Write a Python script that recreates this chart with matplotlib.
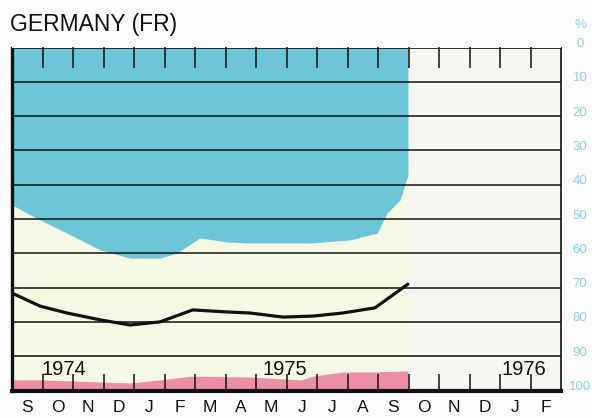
import matplotlib
matplotlib.use('Agg')
import matplotlib.pyplot as plt
import numpy as np

plt.rcParams['font.family'] = ['Liberation Sans', 'DejaVu Sans']

# months since 1 Sep 1974
months = ['S', 'O', 'N', 'D', 'J', 'F', 'M', 'A', 'M', 'J', 'J', 'A', 'S',
          'O', 'N', 'D', 'J', 'F']
years = ['1974', '1975', '1976']
year_pos = [0.98, 8.2, 16.05]

# lower edge of the blue band (%), 0 at top
blue_x = [0, 0.92, 1.80, 2.89, 3.87, 4.85, 5.41, 6.16, 7.05, 7.80, 9.77,
          11.08, 11.97, 12.30, 12.72, 12.98]
blue_y = [45.9, 50.3, 54.1, 59.0, 61.4, 61.4, 59.9, 55.5, 56.7, 57.0, 57.0,
          56.1, 54.1, 48.2, 44.5, 37.2]

# black curve (%)
line_x = [0, 0.92, 1.80, 2.89, 3.87, 4.85, 5.93, 7.05, 7.80, 8.89, 9.87,
          10.85, 11.90, 12.98]
line_y = [71.6, 75.4, 77.4, 79.4, 80.9, 80.0, 76.5, 77.1, 77.4, 78.6, 78.3,
          77.4, 75.9, 69.0]

# top edge of the pink band (%)
pink_x = [0, 0.92, 3.87, 4.85, 5.93, 7.80, 9.48, 9.87, 10.85, 11.90, 12.98]
pink_y = [96.9, 96.9, 97.8, 96.9, 95.8, 96.1, 96.9, 95.8, 94.6, 94.6, 94.3]

pct_ticks = list(range(0, 101, 10))

fig = plt.figure(figsize=(5.92, 4.18), dpi=100, facecolor='#fbfbfb')
ax = fig.add_axes([12 / 592, 1 - 390.5 / 418, 549 / 592, 343 / 418])
ax.set_facecolor('#f4f6f2')
ax.set_xlim(0, 18)
ax.set_ylim(100, 0)

end = blue_x[-1]
ax.fill_between([0, end], 0, 100, color='#f6f8e4', lw=0, zorder=0)
ax.fill_between(blue_x, 0, blue_y, color='#6cc6d8', lw=0, zorder=1)
ax.fill_between(pink_x, pink_y, 100, color='#ec8fa5', lw=0, zorder=1)

for v in pct_ticks[1:-1]:
    ax.axhline(v, color='#111111', lw=1.1, zorder=2)

ax.plot(line_x, line_y, color='#111111', lw=2.3, solid_capstyle='round',
        zorder=3)

for side, w in [('left', 2.4), ('bottom', 3.0), ('top', 1.2), ('right', 1.2)]:
    ax.spines[side].set_linewidth(w)
    ax.spines[side].set_color('#111111')
    ax.spines[side].set_zorder(4)

ax.set_yticks([])
bounds = np.arange(1, 18)
ax.set_xticks(bounds)
ax.tick_params(axis='x', which='major', direction='in', length=12.5,
               width=1.1, color='#111111', labelbottom=False)
ax.set_xticks(np.arange(18) + 0.5, minor=True)
ax.set_xticklabels(months, minor=True, fontsize=12.5, color='#111111')
ax.tick_params(axis='x', which='minor', length=0, pad=7)

top = ax.secondary_xaxis('top')
top.set_xticks(bounds)
top.tick_params(direction='in', length=15, width=1.1, color='#111111',
                labeltop=False)
top.spines['top'].set_visible(False)
top.set_zorder(10)

for yr, xp in zip(years, year_pos):
    ax.text(xp, 95.4, yr, fontsize=14.5, color='#111111',
            ha='left', va='baseline', zorder=5)

ytr = ax.get_yaxis_transform()
for v in pct_ticks:
    ax.text(1.0346, v - 1.0, str(v), transform=ytr, fontsize=9.5,
            color='#8fd0e2', ha='center', va='center', clip_on=False)
ax.text(1.0346, -6.5, '%', transform=ytr, fontsize=9.5, color='#8fd0e2',
        ha='center', va='center', clip_on=False)

fig.text(10 / 592, 1 - 24 / 418, 'GERMANY (FR)', fontsize=16.5,
         color='#111111', ha='left', va='center')

fig.savefig('out.png', dpi=100, facecolor=fig.get_facecolor())
